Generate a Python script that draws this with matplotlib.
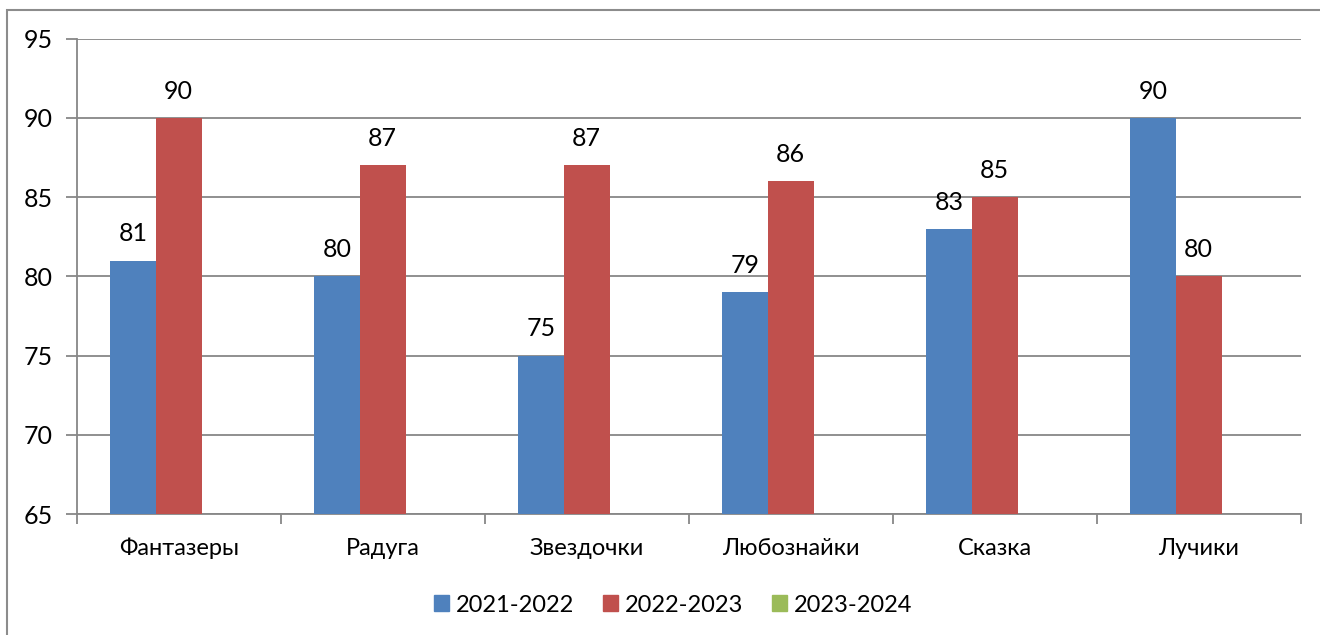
import matplotlib.pyplot as plt
import matplotlib.patches as mpatches
import numpy as np

plt.rcParams['font.family'] = ['Lato', 'DejaVu Sans']

# groups and results per school year
categories = ['Фантазеры', 'Радуга', 'Звездочки', 'Любознайки', 'Сказка', 'Лучики']
years = ['2021-2022', '2022-2023', '2023-2024']
values_2122 = [81, 80, 75, 79, 83, 90]
values_2223 = [90, 87, 87, 86, 85, 80]
values_2324 = []  # no data yet
colors = ['#4F81BD', '#C0504D', '#9BBB59']
y_ticks = [65, 70, 75, 80, 85, 90, 95]

fig = plt.figure(figsize=(13.2, 6.35), dpi=100)
ax = fig.add_axes([76.7 / 1320, 1 - 514 / 635, (1300.7 - 76.7) / 1320, (514 - 38.7) / 635])

# outer chart border
fig.patches.append(mpatches.Rectangle((7 / 1320, -0.1), 1.2, 1 - 10 / 635 + 0.1,
                                      transform=fig.transFigure, fill=False,
                                      edgecolor='#8c8c8c', linewidth=1.5, zorder=0))

x = np.arange(len(categories))
w = 0.224
series = [values_2122, values_2223, values_2324]
for k, vals in enumerate(series):
    if not vals:
        continue
    bars = ax.bar(x + (k - 1) * w, vals, width=w, color=colors[k], zorder=3)
    for b, v in zip(bars, vals):
        ax.annotate(str(v), (b.get_x() + b.get_width() / 2, v), xytext=(0, 11),
                    textcoords='offset points', ha='center', va='bottom', fontsize=18)

ax.set_xlim(-0.5, len(categories) - 0.5)
ax.set_ylim(65, 95)
ax.set_yticks(y_ticks)
ax.yaxis.grid(True, color='#878787', linewidth=1.3, zorder=0)
ax.tick_params(axis='y', length=8, width=1.3, color='#878787', labelsize=18, pad=9)

# category ticks between groups
ax.set_xticks(np.arange(-0.5, len(categories)), minor=False)
ax.set_xticklabels([])
ax.set_xticks(x, minor=True)
ax.set_xticklabels(categories, minor=True)
ax.tick_params(axis='x', which='major', length=7, width=1.3, color='#878787', direction='out')
ax.tick_params(axis='x', which='minor', length=0, labelsize=17, pad=17)

for s in ['top', 'right']:
    ax.spines[s].set_visible(False)
for s in ['left', 'bottom']:
    ax.spines[s].set_color('#878787')
    ax.spines[s].set_linewidth(1.3)

handles = [mpatches.Patch(color=c) for c in colors]
fig.legend(handles, years, loc='center', bbox_to_anchor=(673 / 1320, 1 - 605 / 635),
           ncol=3, frameon=False, fontsize=17, handlelength=0.65, handleheight=0.65,
           handletextpad=0.3, columnspacing=1.2)

fig.savefig('out.png', dpi=100)
